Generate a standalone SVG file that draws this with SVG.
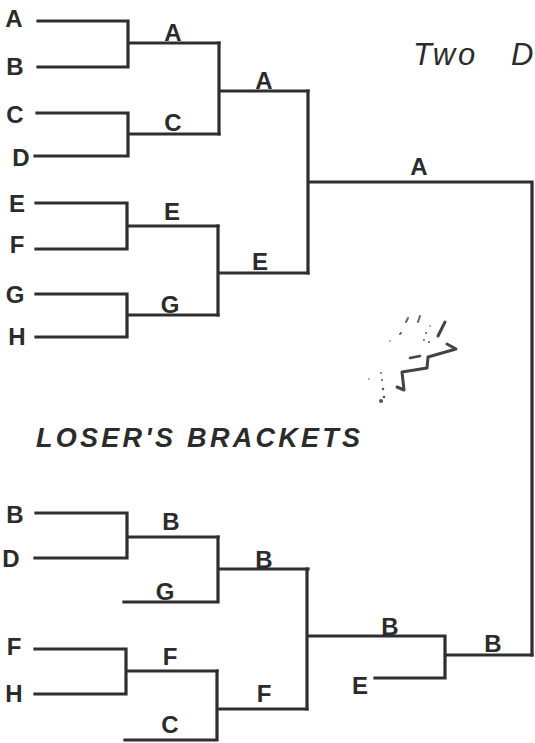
<svg xmlns="http://www.w3.org/2000/svg" width="535" height="743" viewBox="0 0 535 743">
  <style>
    .ln { stroke: #2e2e2e; stroke-width: 3.2; fill: none; stroke-linecap: square; }
    .lb { font-family: "Liberation Sans", Arial, sans-serif; font-weight: bold; font-size: 24px; fill: #2b2b2b; text-anchor: middle; }
    .hd { font-family: "Liberation Sans", Arial, sans-serif; font-style: italic; fill: #2b2b2b; }
  </style>
  <rect width="535" height="743" fill="#ffffff"/>

  <!-- title and section heading -->
  <text class="hd" font-size="31" y="65"><tspan x="413" letter-spacing="3">Two</tspan><tspan x="511">D</tspan></text>
  <text class="hd" font-size="27" font-weight="bold" x="36" y="447" textLength="324" lengthAdjust="spacing">LOSER'S BRACKETS</text>

  <!-- connectors -->
  <g id="connectors">
    <!-- winner's bracket, first round -->
    <path class="ln" d="M38 21 H128 V67 H38 M128 43 H219"/>
    <path class="ln" d="M37 113 H128 V156 H35 M128 134 H219"/>
    <path class="ln" d="M36 203 H127 V249 H36 M127 226 H218"/>
    <path class="ln" d="M36 294 H127 V337 H36 M127 315 H218"/>
    <!-- winner's bracket, semis -->
    <path class="ln" d="M219 43 V134 M219 91 H308"/>
    <path class="ln" d="M218 226 V315 M218 273 H308"/>
    <!-- winner's final and run to the grand final -->
    <path class="ln" d="M308 91 V273 M308 182 H532 V655"/>
    <!-- loser's bracket -->
    <path class="ln" d="M36 513 H127 V558 H35 M127 537 H218"/>
    <path class="ln" d="M124 602 H218 V537 M218 569 H308"/>
    <path class="ln" d="M35 649 H126 V694 H35 M126 671 H217"/>
    <path class="ln" d="M125 740 H217 V671 M217 709 H307"/>
    <path class="ln" d="M307 569 V709 M307 636 H445 V678 H375 M445 655 H532"/>
  </g>

  <!-- winner's bracket entries -->
  <g id="w-entries">
    <text class="lb" x="14" y="27">A</text>
    <text class="lb" x="15" y="75">B</text>
    <text class="lb" x="15" y="123">C</text>
    <text class="lb" x="21" y="166">D</text>
    <text class="lb" x="17" y="212">E</text>
    <text class="lb" x="17" y="253">F</text>
    <text class="lb" x="15" y="303">G</text>
    <text class="lb" x="17" y="345">H</text>
  </g>
  <g id="w-results">
    <text class="lb" x="173" y="41">A</text>
    <text class="lb" x="173" y="131">C</text>
    <text class="lb" x="264" y="89">A</text>
    <text class="lb" x="172" y="220">E</text>
    <text class="lb" x="170" y="313">G</text>
    <text class="lb" x="260" y="270">E</text>
    <text class="lb" x="419" y="175">A</text>
  </g>

  <!-- loser's bracket entries and results -->
  <g id="l-entries">
    <text class="lb" x="15" y="523">B</text>
    <text class="lb" x="11" y="567">D</text>
    <text class="lb" x="14" y="655">F</text>
    <text class="lb" x="14" y="702">H</text>
    <text class="lb" x="165" y="600">G</text>
    <text class="lb" x="170" y="733">C</text>
    <text class="lb" x="360" y="694">E</text>
  </g>
  <g id="l-results">
    <text class="lb" x="171" y="530">B</text>
    <text class="lb" x="264" y="568">B</text>
    <text class="lb" x="170" y="665">F</text>
    <text class="lb" x="264" y="702">F</text>
    <text class="lb" x="390" y="635">B</text>
    <text class="lb" x="493" y="652">B</text>
  </g>

  <!-- ink smudge -->
  <g id="smudge" fill="none" stroke="#444" stroke-linecap="round" stroke-linejoin="round">
    <path d="M397 387 L404 390 L402 372 L427 368 L428 357 L456 349 L447 344" stroke-width="3"/>
    <path d="M445 322 L438 336" stroke-width="3"/>
    <path d="M410 358 L420 356" stroke-width="2.5"/>
    <path d="M406 322 L408 318 M420 316 L418 322 M400 334 L401 333" stroke-width="2" stroke="#666"/>
    <g fill="#555" stroke="none">
      <circle cx="381" cy="401" r="2"/>
      <circle cx="384" cy="397" r="1.3"/>
      <circle cx="383" cy="389" r="1.3"/>
      <circle cx="382" cy="380" r="1"/>
      <circle cx="381" cy="373" r="0.9"/>
      <circle cx="426" cy="333" r="1"/>
      <circle cx="429" cy="342" r="1"/>
      <circle cx="424" cy="340" r="0.9"/>
      <circle cx="390" cy="341" r="0.8"/>
      <circle cx="369" cy="379" r="0.8"/>
      <circle cx="430" cy="326" r="0.8"/>
    </g>
  </g>
</svg>
